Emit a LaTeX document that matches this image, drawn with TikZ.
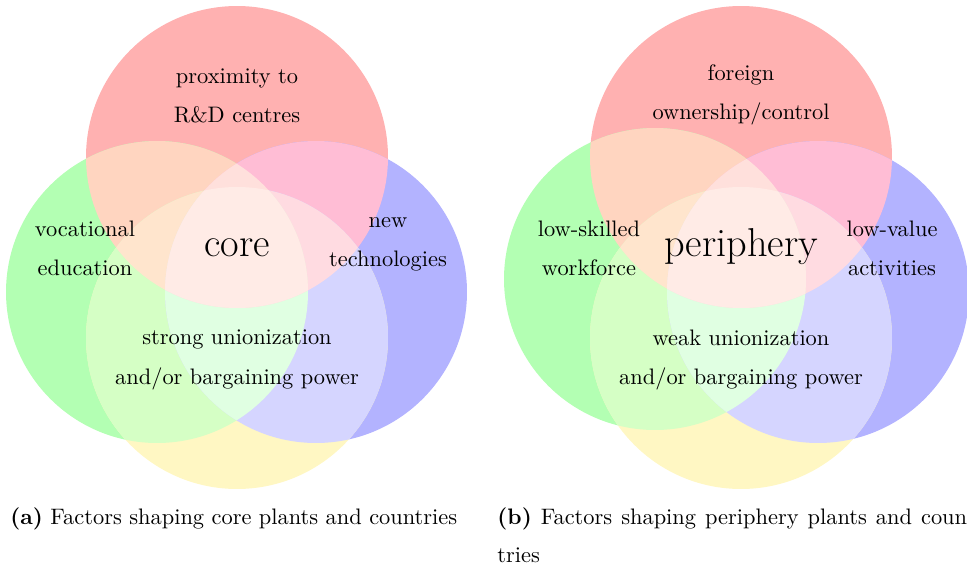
\documentclass[tikz,border=0pt]{standalone}
\usepackage{amsmath}

% region colours of the two four-set diagrams
\definecolor{redset}{RGB}{255,177,177}
\definecolor{greenset}{RGB}{179,255,179}
\definecolor{blueset}{RGB}{179,179,255}
\definecolor{yellowset}{RGB}{255,247,195}
\definecolor{redgreen}{RGB}{255,213,192}
\definecolor{redblue}{RGB}{255,189,213}
\definecolor{greenyellow}{RGB}{213,255,197}
\definecolor{blueyellow}{RGB}{213,213,255}
\definecolor{redgreenyellow}{RGB}{255,229,205}
\definecolor{redblueyellow}{RGB}{255,219,225}
\definecolor{greenblueyellow}{RGB}{224,255,226}
\definecolor{redgreenblue}{RGB}{255,224,220}
\definecolor{allsets}{RGB}{255,235,230}

\newcommand{\vennrad}{67.4pt}

\tikzset{
	factor/.style={align=center, font=\fontsize{10}{17.5}\selectfont},
	hub/.style={anchor=base, font=\fontsize{18}{22}\selectfont},
	subcap/.style={anchor=base west, inner sep=0pt, font=\fontsize{10}{12}\selectfont}
}

\begin{document}
\begin{tikzpicture}[x=0.4464pt, y=-0.4464pt]
	\useasboundingbox (0,0) rectangle (967,569);
	\foreach \rx/\gx/\gy/\bx in {237/157/292/316, 741/655/279/818} {
		\coordinate (R) at (\rx,157);
		\coordinate (G) at (\gx,\gy);
		\coordinate (B) at (\bx,292);
		\coordinate (Y) at (\rx,338);
		% one set
		\fill[redset] (R) circle (\vennrad);
		\fill[greenset] (G) circle (\vennrad);
		\fill[blueset] (B) circle (\vennrad);
		\fill[yellowset] (Y) circle (\vennrad);
		% two sets
		\begin{scope}
			\clip (R) circle (\vennrad);
			\fill[redgreen] (G) circle (\vennrad);
			\fill[redblue] (B) circle (\vennrad);
		\end{scope}
		\begin{scope}
			\clip (Y) circle (\vennrad);
			\fill[greenyellow] (G) circle (\vennrad);
			\fill[blueyellow] (B) circle (\vennrad);
		\end{scope}
		% three sets
		\begin{scope}
			\clip (R) circle (\vennrad);
			\clip (Y) circle (\vennrad);
			\fill[redgreenyellow] (G) circle (\vennrad);
			\fill[redblueyellow] (B) circle (\vennrad);
		\end{scope}
		\begin{scope}
			\clip (G) circle (\vennrad);
			\clip (B) circle (\vennrad);
			\fill[greenblueyellow] (Y) circle (\vennrad);
			\fill[redgreenblue] (R) circle (\vennrad);
		\end{scope}
		% all four
		\begin{scope}
			\clip (R) circle (\vennrad);
			\clip (G) circle (\vennrad);
			\clip (B) circle (\vennrad);
			\fill[allsets] (Y) circle (\vennrad);
		\end{scope}
	}

	% core
	\node[factor] (proximity) at (237,96) {proximity to\\R\&D centres};
	\node[factor] (vocational) at (85,248) {vocational\\education};
	\node[factor] (newtech) at (388,244) {new\\technologies};
	\node[factor] (strongunion) at (237,360) {strong unionization\\and/or bargaining power};
	\node[hub] (core) at (237,256) {core};
	\node[subcap] (capa) at (10,524) {\textbf{(a)} Factors shaping core plants and countries};

	% periphery
	\node[factor] (foreign) at (741,95) {foreign\\ownership/control};
	\node[factor] (lowskill) at (589,248) {low-skilled\\workforce};
	\node[factor] (lowvalue) at (892,248) {low-value\\activities};
	\node[factor] (weakunion) at (741,360) {weak unionization\\and/or bargaining power};
	\node[hub] (periphery) at (741,256) {periphery};
	\node[subcap] (capb) at (497,524) {\makebox[213pt][s]{\textbf{(b)} Factors shaping periphery plants and coun-}};
	\node[subcap] (capbend) at (497,562) {tries};
\end{tikzpicture}
\end{document}
